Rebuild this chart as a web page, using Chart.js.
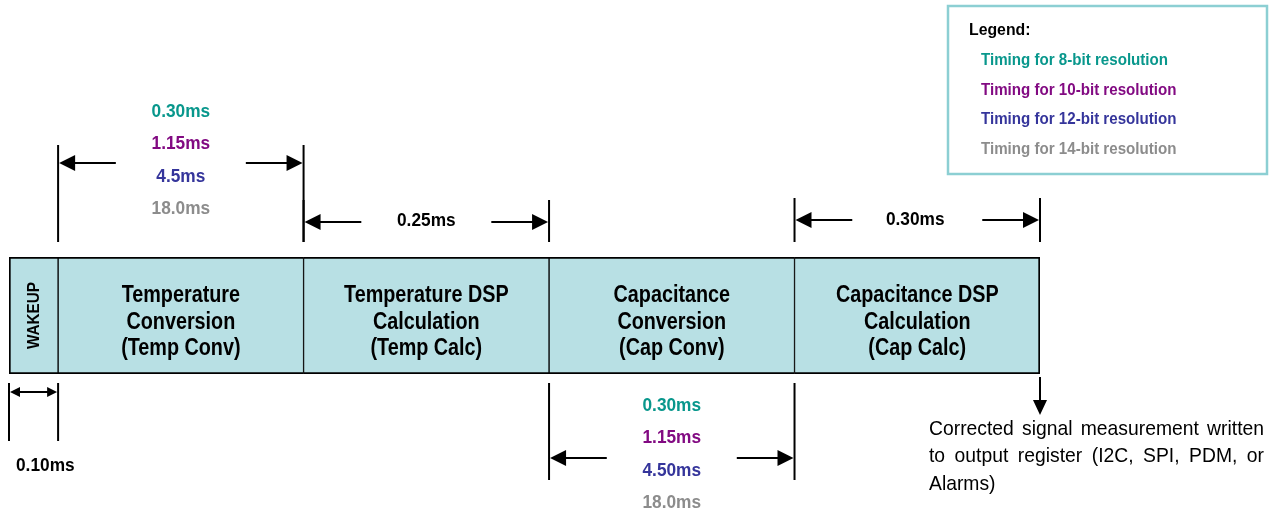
<!DOCTYPE html>
<html>
<head>
<meta charset="utf-8">
<script src="https://cdn.jsdelivr.net/npm/chart.js@4.4.1/dist/chart.umd.min.js"></script>
<style>
  html, body { margin: 0; padding: 0; background: #fff; }
  #wrap { width: 1270px; height: 514px; position: relative; }
</style>
</head>
<body>
<div id="wrap"><canvas id="timing"></canvas></div>
<script>
// measurement phases, in drawing units (wakeup is one unit, the others five)
const phases = ['WAKEUP', 'Temp Conv', 'Temp Calc', 'Cap Conv', 'Cap Calc'];
const phaseWidths = [1, 5, 5, 5, 5];
const phaseText = [
  ['WAKEUP'],
  ['Temperature', 'Conversion', '(Temp Conv)'],
  ['Temperature DSP', 'Calculation', '(Temp Calc)'],
  ['Capacitance', 'Conversion', '(Cap Conv)'],
  ['Capacitance DSP', 'Calculation', '(Cap Calc)'],
];

const resolutions = ['Timing for 8-bit resolution', 'Timing for 10-bit resolution',
  'Timing for 12-bit resolution', 'Timing for 14-bit resolution'];
const resColors = ['#08978c', '#820a82', '#35359b', '#8c8c8c'];

const tempConvTimes = ['0.30ms', '1.15ms', '4.5ms', '18.0ms'];
const capConvTimes = ['0.30ms', '1.15ms', '4.50ms', '18.0ms'];
const wakeupTime = '0.10ms';
const tempCalcTime = '0.25ms';
const capCalcTime = '0.30ms';
const outputNote = ['Corrected signal measurement written', 'to output register (I2C, SPI, PDM, or', 'Alarms)'];

const FONT = '"Liberation Sans", Arial, sans-serif';
const BOX_FILL = '#b8e0e4';

// cumulative edges of the phases in data units
const edges = phaseWidths.reduce((acc, w) => { acc.push(acc[acc.length - 1] + w); return acc; }, [0]);

function arrowHead(ctx, x, y, dir) {
  ctx.beginPath();
  if (dir === 'l') { ctx.moveTo(x, y); ctx.lineTo(x + 16, y - 8); ctx.lineTo(x + 16, y + 8); }
  if (dir === 'r') { ctx.moveTo(x, y); ctx.lineTo(x - 16, y - 8); ctx.lineTo(x - 16, y + 8); }
  if (dir === 'd') { ctx.moveTo(x, y); ctx.lineTo(x - 7, y - 15); ctx.lineTo(x + 7, y - 15); }
  ctx.closePath();
  ctx.fill();
}

function line(ctx, x1, y1, x2, y2) {
  ctx.beginPath();
  ctx.moveTo(x1, y1);
  ctx.lineTo(x2, y2);
  ctx.stroke();
}

// condensed text, like the narrow face of the original
function narrowText(ctx, text, x, y, sx) {
  ctx.save();
  ctx.translate(x, y);
  ctx.scale(sx, 1);
  ctx.fillText(text, 0, 0);
  ctx.restore();
}

// dimension marker: two ticks, arrows pointing outward to the ticks, gap for labels
function dimension(ctx, xa, xb, tickTop, tickBot, ay, gap) {
  line(ctx, xa, tickTop, xa, tickBot);
  line(ctx, xb, tickTop, xb, tickBot);
  const mid = (xa + xb) / 2;
  line(ctx, xa + 4, ay, mid - gap, ay);
  line(ctx, mid + gap, ay, xb - 4, ay);
  arrowHead(ctx, xa + 1, ay, 'l');
  arrowHead(ctx, xb - 1, ay, 'r');
}

function justified(ctx, text, x, y, width, sx) {
  const words = text.split(' ');
  const total = words.reduce((s, w) => s + ctx.measureText(w).width * sx, 0);
  const space = (width - total) / (words.length - 1);
  let cx = x;
  words.forEach(w => { narrowText(ctx, w, cx, y, sx); cx += ctx.measureText(w).width * sx + space; });
}

const annotations = {
  id: 'annotations',
  afterDraw(chart) {
    const { ctx, chartArea: a, scales: { x } } = chart;
    const px = edges.map(e => x.getPixelForValue(e));
    ctx.save();
    ctx.strokeStyle = '#000';
    ctx.fillStyle = '#000';
    ctx.lineWidth = 2;
    ctx.textAlign = 'center';
    ctx.textBaseline = 'middle';

    // labels inside boxes
    ctx.font = 'bold 23px ' + FONT;
    for (let i = 1; i < phases.length; i++) {
      const cx = (px[i] + px[i + 1]) / 2;
      phaseText[i].forEach((t, j) => narrowText(ctx, t, cx, a.top + 39 + j * 26.5, 0.86));
    }
    ctx.save();
    ctx.translate((px[0] + px[1]) / 2, (a.top + a.bottom) / 2);
    ctx.rotate(-Math.PI / 2);
    ctx.scale(0.9, 1);
    ctx.font = 'bold 17px ' + FONT;
    ctx.fillText(phaseText[0][0], 0, 1);
    ctx.restore();

    // dimension markers above
    dimension(ctx, px[1], px[2], a.top - 112, a.top - 15, a.top - 94, 65);
    dimension(ctx, px[2], px[3], a.top - 57, a.top - 15, a.top - 35, 65);
    dimension(ctx, px[4], px[5], a.top - 59, a.top - 15, a.top - 37, 65);
    // dimension markers below
    dimension(ctx, px[3], px[4], a.bottom + 9, a.bottom + 106, a.bottom + 84, 65);
    line(ctx, px[0], a.bottom + 9, px[0], a.bottom + 67);
    line(ctx, px[1], a.bottom + 9, px[1], a.bottom + 67);
    line(ctx, px[0] + 6, a.bottom + 18, px[1] - 6, a.bottom + 18);
    ctx.beginPath();
    ctx.moveTo(px[0] + 1, a.bottom + 18); ctx.lineTo(px[0] + 11, a.bottom + 13); ctx.lineTo(px[0] + 11, a.bottom + 23);
    ctx.closePath(); ctx.fill();
    ctx.beginPath();
    ctx.moveTo(px[1] - 1, a.bottom + 18); ctx.lineTo(px[1] - 11, a.bottom + 13); ctx.lineTo(px[1] - 11, a.bottom + 23);
    ctx.closePath(); ctx.fill();

    // output arrow
    line(ctx, px[5], a.bottom + 3, px[5], a.bottom + 30);
    arrowHead(ctx, px[5], a.bottom + 41, 'd');

    // timing values
    ctx.font = 'bold 18px ' + FONT;
    const tcx = (px[1] + px[2]) / 2;
    tempConvTimes.forEach((t, i) => { ctx.fillStyle = resColors[i]; narrowText(ctx, t, tcx, a.top - 145 + i * 32.5, 0.96); });
    const ccx = (px[3] + px[4]) / 2;
    capConvTimes.forEach((t, i) => { ctx.fillStyle = resColors[i]; narrowText(ctx, t, ccx, a.bottom + 32 + i * 32.5, 0.96); });
    ctx.fillStyle = '#000';
    narrowText(ctx, tempCalcTime, (px[2] + px[3]) / 2, a.top - 36, 0.96);
    narrowText(ctx, capCalcTime, (px[4] + px[5]) / 2 - 2, a.top - 37, 0.96);
    ctx.textAlign = 'left';
    narrowText(ctx, wakeupTime, px[0] + 7, a.bottom + 92, 0.96);

    // output note
    ctx.font = '21px ' + FONT;
    justified(ctx, outputNote[0], 929, a.bottom + 55, 335, 0.92);
    justified(ctx, outputNote[1], 929, a.bottom + 82, 335, 0.92);
    narrowText(ctx, outputNote[2], 929, a.bottom + 110, 0.92);

    // legend box
    ctx.strokeStyle = '#8ccfd3';
    ctx.lineWidth = 2.5;
    ctx.strokeRect(948, 6, 319, 168);
    ctx.fillStyle = '#000';
    ctx.font = 'bold 17px ' + FONT;
    narrowText(ctx, 'Legend:', 969, 30, 0.93);
    ctx.font = 'bold 16px ' + FONT;
    resolutions.forEach((t, i) => { ctx.fillStyle = resColors[i]; narrowText(ctx, t, 981, 61 + i * 29.5, 0.945); });
    ctx.restore();
  }
};

new Chart(document.getElementById('timing'), {
  type: 'bar',
  data: {
    labels: ['sequence'],
    datasets: phases.map((p, i) => ({
      label: p,
      data: [phaseWidths[i]],
      backgroundColor: BOX_FILL,
      borderColor: '#000',
      borderSkipped: false,
      borderWidth: { top: 2, bottom: 2, left: i === 0 ? 2 : 1, right: i === phases.length - 1 ? 2 : 1 },
      barPercentage: 1,
      categoryPercentage: 1,
    }))
  },
  options: {
    indexAxis: 'y',
    responsive: true,
    maintainAspectRatio: false,
    animation: false,
    layout: { padding: { left: 9, right: 230, top: 257, bottom: 140 } },
    plugins: { legend: { display: false }, tooltip: { enabled: false } },
    scales: {
      x: { stacked: true, min: 0, max: edges[edges.length - 1], display: false },
      y: { stacked: true, display: false }
    }
  },
  plugins: [annotations]
});
</script>
</body>
</html>
